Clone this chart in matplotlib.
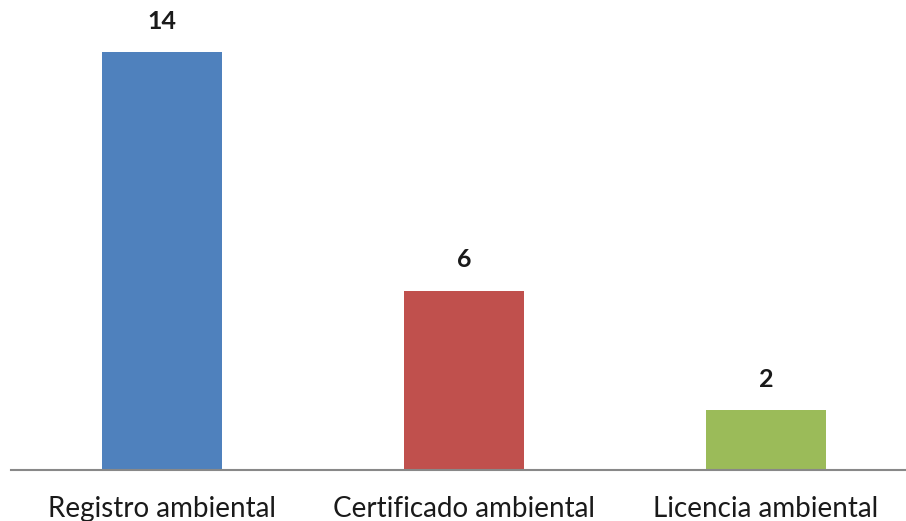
import matplotlib
matplotlib.use("Agg")
import matplotlib.pyplot as plt

categorias = ["Registro ambiental", "Certificado ambiental", "Licencia ambiental"]
valores = [14, 6, 2]
colores = ["#4F81BD", "#C0504D", "#9BBB59"]

plt.rcParams['font.family'] = ['Lato', 'DejaVu Sans']

fig = plt.figure(figsize=(9.06, 5.21), dpi=100)
ax = fig.add_axes([11 / 906, 51 / 521, 895 / 906, 470 / 521])

x = range(len(categorias))
barras = ax.bar(x, valores, width=0.4, color=colores)

for b, v in zip(barras, valores):
    ax.annotate(str(v), (b.get_x() + b.get_width() / 2, v),
                textcoords="offset points", xytext=(0, 14),
                ha='center', va='bottom', fontsize=18, fontweight='bold',
                color='#1a1a1a')

ax.set_xlim(-0.5, 2.4636)
ax.set_ylim(0, 15.74)
ax.set_xticks(list(x))
ax.set_xticklabels(categorias, fontsize=20, color='#1a1a1a')
ax.tick_params(axis='x', length=0, pad=18.5)
ax.set_yticks([])
for s in ['top', 'right', 'left']:
    ax.spines[s].set_visible(False)
ax.spines['bottom'].set_color('#888888')
ax.spines['bottom'].set_linewidth(1.5)

fig.savefig("out.png", dpi=100)
